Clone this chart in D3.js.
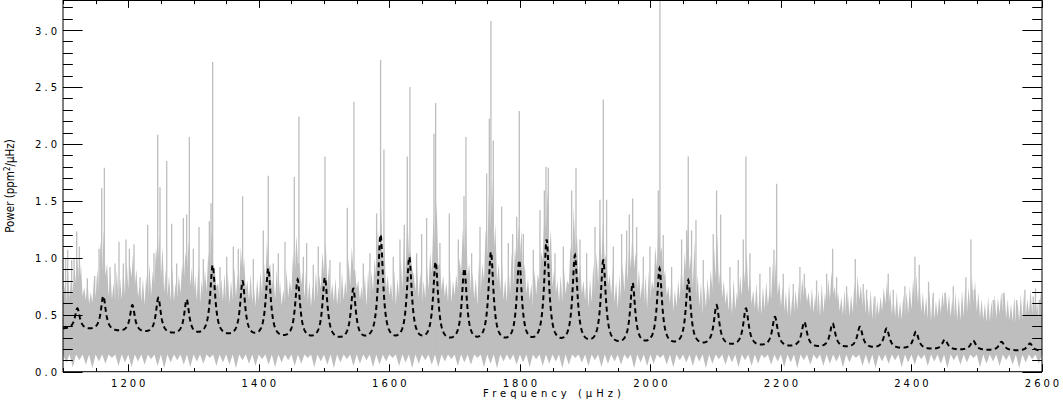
<!DOCTYPE html>
<html><head><meta charset="utf-8">
<script src="https://cdn.jsdelivr.net/npm/d3@7"></script>
<style>body{margin:0;background:#fff}svg{display:block}</style>
</head><body>
<script>
// ---------- data ----------
const xMajorTicks = [1200,1400,1600,1800,2000,2200,2400,2600];
const xTickLabels = ["1200","1400","1600","1800","2000","2200","2400","2600"];
const xMinorTicks = [1100,1150,1200,1250,1300,1350,1400,1450,1500,1550,1600,1650,1700,1750,1800,1850,1900,1950,2000,2050,2100,2150,2200,2250,2300,2350,2400,2450,2500,2550,2600];
const yMajorTicks = [0,0.5,1.0,1.5,2.0,2.5,3.0];
const yTickLabels = ["0.0","0.5","1.0","1.5","2.0","2.5","3.0"];
const yMinorTicks = [0,0.1,0.2,0.3,0.4,0.5,0.6,0.7,0.8,0.9,1.0,1.1,1.2,1.3,1.4,1.5,1.6,1.7,1.8,1.9,2.0,2.1,2.2,2.3,2.4,2.5,2.6,2.7,2.8,2.9,3.0,3.1,3.2];

// fitted model: mode frequencies (µHz), peak power, half-width (µHz)
const modeFreq = [1122.0,1161.8,1206.3,1246.1,1289.5,1329.3,1375.2,1414.5,1459.5,1501.3,1544.8,1586.6,1630.6,1670.9,1714.9,1755.7,1799.1,1841.0,1884.4,1927.8,1972.8,2014.0,2058.0,2101.4,2146.4,2190.8,2235.8,2279.2,2321.0,2361.9,2406.8,2451.2,2494.6,2538.0,2581.5];
const modePeak = [0.556,0.664,0.585,0.649,0.635,0.936,0.796,0.907,0.810,0.828,0.731,1.205,1.009,0.965,0.907,1.053,0.980,1.161,1.024,0.980,0.781,0.907,0.804,0.585,0.556,0.482,0.438,0.424,0.395,0.380,0.351,0.283,0.272,0.263,0.248];
const modeWidth = [4.5,4.5,4.5,4.5,4.5,4.5,4.5,4.5,4.5,4.5,4.5,4.5,4.5,4.5,4.5,4.5,4.5,4.5,4.5,4.5,4.5,4.5,4.5,5,5,5,5,5,5,5,5,5,5,5,5];
// background of the fit
const bgFreq  = [1100,1200,1300,1400,1500,1600,1700,1800,1900,2000,2100,2200,2300,2400,2500,2600];
const bgPower = [0.37,0.33,0.30,0.275,0.255,0.24,0.23,0.22,0.21,0.205,0.205,0.2,0.195,0.19,0.183,0.178];

// observed spectrum, solid part of the band (upper level)
const solidFreq = [1100,1114,1122,1130,1142,1154,1162,1170,1184,1198,1206,1214,1226,1238,1246,1254,1268,1282,1290,1298,1310,1321,1329,1337,1352,1367,1375,1383,1395,1407,1415,1423,1437,1452,1460,1468,1480,1493,1501,1509,1523,1537,1545,1553,1566,1579,1587,1595,1609,1623,1631,1639,1651,1663,1671,1679,1693,1707,1715,1723,1735,1746,1756,1764,1778,1791,1799,1807,1820,1832,1841,1849,1863,1876,1884,1892,1906,1920,1928,1936,1950,1964,1973,1981,1994,2006,2014,2022,2036,2050,2058,2066,2080,2093,2101,2109,2124,2138,2146,2154,2168,2183,2191,2199,2213,2228,2236,2244,2258,2271,2279,2287,2300,2313,2321,2329,2342,2354,2362,2370,2384,2399,2407,2415,2429,2443,2451,2459,2473,2487,2495,2503,2516,2530,2538,2546,2560,2574,2582,2590,2600];
const solidPower = [0.60,0.66,0.80,0.66,0.58,0.68,0.95,0.66,0.60,0.68,0.85,0.66,0.58,0.70,0.95,0.70,0.60,0.70,0.90,0.66,0.60,0.72,0.98,0.66,0.58,0.66,0.85,0.64,0.57,0.70,0.90,0.64,0.57,0.72,0.95,0.66,0.57,0.68,0.88,0.64,0.57,0.68,0.88,0.64,0.57,0.76,1.12,0.72,0.57,0.76,1.08,0.72,0.58,0.76,1.15,0.72,0.58,0.76,1.05,0.72,0.58,0.82,1.30,0.80,0.58,0.76,1.05,0.72,0.57,0.82,1.30,0.76,0.57,0.78,1.12,0.72,0.55,0.76,1.05,0.72,0.55,0.76,0.98,0.68,0.54,0.74,1.08,0.70,0.52,0.70,0.95,0.70,0.50,0.66,0.85,0.66,0.49,0.62,0.80,0.60,0.49,0.60,0.76,0.58,0.47,0.56,0.68,0.55,0.47,0.56,0.70,0.55,0.46,0.53,0.64,0.52,0.45,0.52,0.62,0.50,0.45,0.53,0.64,0.52,0.44,0.50,0.56,0.48,0.44,0.52,0.60,0.48,0.43,0.47,0.53,0.46,0.43,0.47,0.53,0.46,0.47];
// local maxima of the spectrum in 5 µHz bins (1100-1105, 1105-1110, ...)
const binTop = [
 0.76,0.90,0.84,0.92,1.00,0.95,0.74,0.80,0.70,0.82,
 0.90,1.15,1.25,0.95,0.88,0.78,0.90,0.82,0.92,0.98,
 0.95,1.05,0.90,0.76,0.82,0.85,0.95,0.88,1.10,1.20,
 1.10,0.90,0.85,0.92,0.78,0.85,0.95,1.05,1.15,0.92,
 0.85,0.95,0.80,0.90,1.05,1.25,0.90,0.78,0.82,0.86,
 0.88,0.80,0.92,0.85,1.10,1.00,0.80,0.86,0.75,0.82,
 0.88,1.00,1.15,0.95,0.85,0.90,0.80,0.72,0.90,0.80,
 1.05,1.20,0.95,0.88,0.92,0.80,0.76,0.88,0.85,1.05,
 1.15,0.92,0.78,0.82,0.75,0.88,0.80,1.00,1.10,0.90,
 0.80,0.75,0.85,0.90,0.88,1.00,1.25,1.45,1.10,0.85,
 0.78,0.90,0.82,1.00,1.20,1.40,1.05,0.85,0.92,0.88,
 0.80,0.95,1.05,1.35,1.50,0.95,0.85,0.78,0.95,0.80,
 0.85,1.00,1.25,1.35,0.95,0.88,0.82,1.00,0.95,1.25,
 1.55,1.70,1.30,0.95,1.00,0.82,0.95,1.05,1.10,1.30,
 1.25,0.95,0.82,0.78,0.90,0.86,1.05,1.40,1.60,1.25,
 0.90,0.80,0.85,0.92,0.80,1.10,1.45,1.20,0.95,0.80,
 0.88,0.82,0.95,1.05,1.30,1.35,1.05,0.85,0.92,0.80,
 0.85,0.95,1.00,1.15,1.25,1.05,0.90,0.80,0.85,0.88,
 0.80,1.10,1.40,1.10,0.90,0.75,0.85,0.72,0.80,0.95,
 1.05,1.30,1.05,1.15,0.85,0.78,0.75,0.82,0.90,1.10,
 1.20,0.95,0.80,0.72,0.75,0.82,0.70,0.85,0.95,1.05,
 0.85,0.72,0.78,0.70,0.75,0.80,0.72,0.95,1.00,0.80,
 0.75,0.70,0.78,0.68,0.72,0.78,0.82,0.75,0.70,0.74,
 0.68,0.72,0.78,0.70,0.82,0.88,0.75,0.70,0.66,0.72,
 0.70,0.68,0.78,0.85,0.76,0.70,0.65,0.72,0.68,0.62,
 0.66,0.74,0.80,0.72,0.65,0.70,0.62,0.68,0.70,0.75,
 0.82,0.85,0.78,0.70,0.66,0.72,0.68,0.62,0.66,0.70,
 0.72,0.68,0.64,0.70,0.66,0.72,0.78,0.74,0.85,0.80,
 0.70,0.64,0.60,0.66,0.62,0.68,0.65,0.70,0.72,0.64,
 0.60,0.66,0.62,0.68,0.70,0.64,0.72,0.66,0.62,0.70];
// lowest values of the spectrum in 10 µHz bins
const binLow = [
 0.08,0.04,0.10,0.06,0.03,0.09,0.07,0.12,0.05,0.08,
 0.04,0.09,0.06,0.11,0.05,0.03,0.08,0.10,0.06,0.04,
 0.09,0.07,0.12,0.05,0.08,0.06,0.03,0.10,0.07,0.05,
 0.11,0.06,0.04,0.08,0.10,0.05,0.07,0.12,0.04,0.09,
 0.06,0.03,0.08,0.11,0.05,0.07,0.10,0.04,0.06,0.09,
 0.12,0.05,0.08,0.03,0.07,0.10,0.06,0.04,0.09,0.11,
 0.05,0.08,0.06,0.12,0.04,0.07,0.03,0.09,0.10,0.06,
 0.08,0.04,0.11,0.05,0.07,0.09,0.03,0.06,0.12,0.08,
 0.05,0.10,0.04,0.07,0.09,0.06,0.11,0.03,0.08,0.05,
 0.07,0.12,0.06,0.04,0.10,0.08,0.05,0.09,0.03,0.07,
 0.11,0.06,0.08,0.04,0.10,0.05,0.07,0.12,0.06,0.09,
 0.04,0.08,0.03,0.10,0.06,0.11,0.05,0.07,0.09,0.04,
 0.08,0.12,0.05,0.06,0.03,0.09,0.07,0.10,0.04,0.08,
 0.06,0.11,0.05,0.09,0.07,0.03,0.10,0.06,0.08,0.12,
 0.04,0.07,0.09,0.05,0.10,0.06,0.03,0.08,0.11,0.07];
const bandBottom = 0.15;   // solid lower level of the band
// individual tall spikes
const spikeFreq = [1104,1107.2,1113.3,1116.9,1121.0,1125.1,1137.3,1148.5,1155.2,1159.3,1163.4,1172.0,1179.7,1185.8,1192.5,1196.5,1201.7,1208.8,1218.0,1229.7,1239.4,1245.1,1248.6,1258.9,1266.5,1274.2,1284.4,1289.5,1293.6,1299.7,1308.4,1315.0,1324.2,1326.8,1329.3,1340.6,1350.8,1361.0,1368.6,
  1375.2,1391.6,1406.9,1414.5,1422.2,1429.9,1440.1,1454.4,1461.5,1468.2,1473.3,1483.5,1491.1,1501.4,1509.0,1524.3,1535.6,1545.8,1560.1,1570.3,1580.5,1586.6,1591.7,1606.0,1616.3,1622.9,1627.5,1631.6,1641.8,1649.5,1657.1,1668.4,1670.9,1677.5,1691.9,
  1705.7,1714.4,1717.4,1726.1,1738.9,1749.1,1753.2,1755.7,1759.3,1772.1,1782.3,1788.9,1795.1,1799.1,1805.3,1820.6,1830.8,1837.5,1840.0,1843.6,1853.8,1866.6,1879.3,1886.0,1892.1,1902.3,1915.1,1922.7,1927.8,1932.9,1943.2,1955.9,1963.6,1967.7,1972.8,1978.9,1989.1,1999.3,
  2012.1,2014.6,2019.7,2032.5,2047.8,2055.5,2058.0,2063.1,2069.8,2081.0,2096.3,2101.4,2107.6,2121.9,2134.6,2142.3,2146.4,2152.5,2167.8,2183.2,2189.3,2193.4,2203.6,2218.9,2229.1,2235.8,2254.6,2270.0,2279.2,2285.3,2300.6,2313.9,2326.1,
  2331.2,2344.0,2364.4,2372.1,2389.9,2405.3,2411.9,2426.2,2433.4,2451.2,2464.0,2483.4,2491.1,2496.2,2525.3,2540.6,2561.0,2573.8,2586.6,2590.0,2595.8];
const spikePower = [1.00,1.07,0.98,0.99,1.23,1.10,0.82,0.84,1.08,1.61,1.79,0.92,0.95,1.14,0.95,1.16,1.08,1.12,0.83,1.29,1.04,2.08,1.62,1.85,1.30,0.95,1.35,1.38,2.06,1.08,1.27,0.99,1.32,1.48,2.72,0.92,1.01,1.10,1.08,
  1.54,0.99,1.24,1.72,0.95,1.04,1.14,1.71,2.24,1.01,1.13,0.94,1.10,1.89,0.98,0.96,1.44,2.37,0.95,1.04,1.39,2.74,1.95,1.01,1.16,1.29,1.89,2.50,1.04,1.21,1.35,2.09,2.36,1.13,1.39,
  1.16,1.54,2.06,1.04,1.27,1.74,2.22,3.08,2.03,1.45,1.13,1.21,1.36,2.29,1.21,1.07,1.42,1.59,1.80,1.79,1.04,1.10,1.59,1.79,1.16,1.04,1.27,1.51,2.39,1.51,1.10,1.21,1.24,1.38,1.52,1.27,1.01,1.10,
  1.59,3.50,1.20,0.92,1.16,1.24,1.89,1.24,1.33,0.98,1.21,1.59,1.38,0.92,0.98,1.16,1.89,1.04,0.86,0.92,1.07,1.65,0.86,0.77,0.92,0.86,0.80,0.86,1.08,0.83,0.75,0.99,0.77,
  0.72,0.66,0.86,0.72,0.75,1.01,0.94,0.79,0.69,0.69,0.75,0.83,1.16,0.72,0.63,0.69,0.63,0.72,0.66,0.73,0.63];

// ---------- layout ----------
const W = 1063, H = 401;
const x = d3.scaleLinear().domain([1100, 2600]).range([63, 1042]);
const y = d3.scaleLinear().domain([0, 3.26]).range([371.7, 0.4]);
const GRAY = "#bebebe";

const svg = d3.select("body").append("svg").attr("width", W).attr("height", H);
svg.append("defs").append("clipPath").attr("id", "clip").append("rect")
  .attr("x", 63).attr("y", 0.5).attr("width", 979).attr("height", 371.2);
const plot = svg.append("g").attr("clip-path", "url(#clip)");

// spectrum band: jagged top (5 µHz bins) and jagged bottom (10 µHz bins)
const solidS = d3.scaleLinear().domain(solidFreq).range(solidPower);
const pts = [];
binTop.forEach((p, i) => {
  const f0 = 1100 + 5 * i;
  pts.push([f0, solidS(f0)]);
  pts.push([f0 + 2.5, Math.max(p, solidS(f0 + 2.5))]);
});
pts.push([2600, solidS(2600)]);
for (let i = binLow.length - 1; i >= 0; i--) {
  const f0 = 1100 + 10 * i;
  pts.push([f0 + 10, bandBottom]);
  pts.push([f0 + 5, binLow[i]]);
}
pts.push([1100, bandBottom]);
plot.append("path")
  .attr("fill", GRAY)
  .attr("d", d3.line().x(d => x(d[0])).y(d => y(d[1]))(pts) + "Z");

// tall spikes
plot.append("g").selectAll("line").data(spikeFreq).join("line")
  .attr("x1", f => x(f)).attr("x2", f => x(f))
  .attr("y1", y(bandBottom))
  .attr("y2", (f, i) => y(spikePower[i]))
  .attr("stroke", GRAY).attr("stroke-width", 1.3);

// model: background + Lorentzian modes, heights solved so peaks match
const bgS = d3.scaleLinear().domain(bgFreq).range(bgPower);
let amp = modePeak.map((p, i) => p - bgS(modeFreq[i]));
function model(f, a) {
  let s = bgS(f);
  for (let i = 0; i < modeFreq.length; i++) {
    const u = (f - modeFreq[i]) / modeWidth[i];
    s += a[i] / (1 + u * u);
  }
  return s;
}
for (let it = 0; it < 4; it++) {
  amp = amp.map((a, i) => a + (modePeak[i] - model(modeFreq[i], amp)));
}
const mgrid = d3.range(1100, 2600.01, 0.5);
plot.append("path")
  .datum(mgrid)
  .attr("fill", "none").attr("stroke", "#000").attr("stroke-width", 2)
  .attr("stroke-dasharray", "5,3.5")
  .attr("d", d3.line().x(f => x(f)).y(f => y(model(f, amp))));

// ---------- axes ----------
const ax = svg.append("g").attr("stroke", "#000").attr("stroke-width", 1);
const x0 = 63, x1 = 1042, yb = 371.7, yt = 0.5;
ax.append("rect").attr("x", x0).attr("y", yt).attr("width", x1 - x0).attr("height", yb - yt).attr("fill", "none");
const isMajorY = v => yMajorTicks.some(t => Math.abs(t - v) < 1e-6);
const isMajorX = v => xMajorTicks.includes(v);
yMinorTicks.forEach(v => {
  const L = isMajorY(v) ? 19.6 : 9.8;
  const yy = Math.round(y(v)) + 0.5;
  ax.append("line").attr("x1", x0).attr("x2", x0 + L).attr("y1", yy).attr("y2", yy);
  ax.append("line").attr("x1", x1).attr("x2", x1 - L).attr("y1", yy).attr("y2", yy);
});
xMinorTicks.forEach(v => {
  const L = isMajorX(v) ? 7.4 : 3.7;
  const xx = Math.round(x(v)) + 0.5;
  ax.append("line").attr("x1", xx).attr("x2", xx).attr("y1", yb).attr("y2", yb - L);
  ax.append("line").attr("x1", xx).attr("x2", xx).attr("y1", yt).attr("y2", yt + L);
});

const font = "DejaVu Sans, sans-serif";
const LS = 3;
svg.append("g").selectAll("text").data(yMajorTicks).join("text")
  .attr("x", 57 + LS).attr("y", v => y(v) + 4.5)
  .attr("text-anchor", "end").attr("font-family", font).attr("font-size", 10)
  .attr("letter-spacing", LS)
  .text((v, i) => yTickLabels[i]);
svg.append("g").selectAll("text").data(xMajorTicks).join("text")
  .attr("x", v => x(v) + LS / 2).attr("y", 387)
  .attr("text-anchor", "middle").attr("font-family", font).attr("font-size", 10)
  .attr("letter-spacing", LS)
  .text((v, i) => xTickLabels[i]);

svg.append("text").attr("x", 552 + 2).attr("y", 397)
  .attr("text-anchor", "middle").attr("font-family", font).attr("font-size", 10)
  .attr("letter-spacing", 4)
  .text("Frequency (μHz)");

const yl = svg.append("text")
  .attr("transform", "translate(14,186) rotate(-90)")
  .attr("text-anchor", "middle")
  .attr("font-family", "DejaVu Sans Condensed, DejaVu Sans, sans-serif")
  .attr("font-stretch", "condensed")
  .attr("font-size", 11.5);
yl.append("tspan").text("Power (ppm");
yl.append("tspan").attr("font-size", 8).attr("dy", -4).text("2");
yl.append("tspan").attr("dy", 4).text("/μHz)");
</script>
</body></html>
